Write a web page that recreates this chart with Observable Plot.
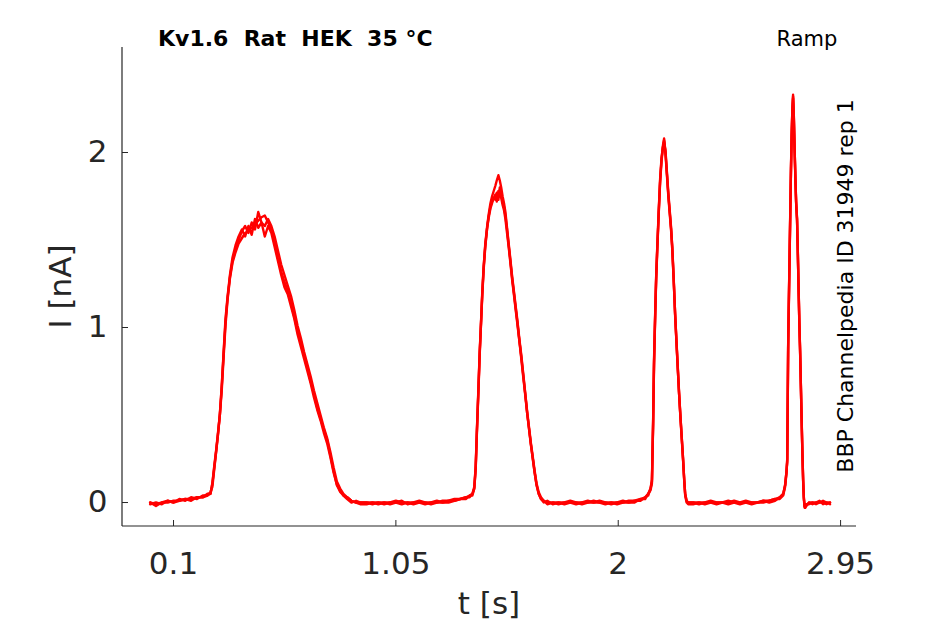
<!DOCTYPE html>
<html>
<head>
<meta charset="utf-8">
<script src="https://cdn.jsdelivr.net/npm/d3@7"></script>
<script src="https://cdn.jsdelivr.net/npm/@observablehq/plot@0.6"></script>
<style>
  html, body { margin: 0; padding: 0; background: #fff; }
  svg { display: block; }
</style>
</head>
<body>
<div id="chart"></div>
<script>
// ---- Data ----
const title = "Kv1.6  Rat  HEK  35 °C";
const protocol = "Ramp";
const sideNote = "BBP Channelpedia ID 31949 rep 1";
const xLabel = "t [s]";
const yLabel = "I [nA]";

const xTicks = [0.1, 1.05, 2, 2.95];
const xTickLabels = ["0.1", "1.05", "2", "2.95"];
const yTicks = [0, 1, 2];
const yTickLabels = ["0", "1", "2"];

const timeS = [
  0.000,0.025,0.050,0.075,0.100,0.125,0.150,0.175,0.200,0.225,0.245,0.258,
  0.266,0.274,0.282,0.290,0.298,0.306,0.314,0.322,0.331,0.341,0.352,0.365,0.378,0.392,0.406,0.420,0.434,0.448,0.462,0.476,0.490,0.504,0.518,0.532,0.546,0.560,0.574,0.588,0.602,0.616,0.630,0.644,0.658,0.672,0.686,0.700,0.714,0.728,0.742,0.756,0.770,0.784,0.798,0.812,0.826,0.842,0.860,0.880,0.900,
  0.925,0.950,0.975,1.000,1.025,1.050,1.075,1.100,1.125,1.150,1.175,1.200,1.225,1.250,1.275,1.300,1.325,1.350,1.365,
  1.377,1.385,1.391,1.396,1.402,1.408,1.414,1.419,1.425,1.432,1.440,1.447,1.454,1.461,1.468,1.475,1.481,1.488,1.494,1.500,1.506,1.512,1.518,1.525,1.532,1.540,1.547,1.555,1.562,1.570,1.578,1.586,1.594,1.603,1.611,1.619,1.627,1.635,1.643,1.651,1.660,1.670,1.682,1.697,
  1.720,1.745,1.770,1.795,1.820,1.845,1.870,1.895,1.920,1.945,1.970,1.995,2.020,2.045,2.070,2.095,2.115,
  2.128,2.138,2.144,2.149,2.153,2.158,2.162,2.167,2.173,2.179,2.185,2.191,2.196,2.202,2.208,2.214,2.220,2.226,2.231,2.237,2.243,2.249,2.255,2.260,2.265,2.271,2.277,2.282,2.286,2.292,2.299,
  2.320,2.345,2.370,2.395,2.420,2.445,2.470,2.495,2.520,2.545,2.570,2.595,2.620,2.645,2.670,2.690,
  2.705,2.713,2.719,2.722,2.724,2.726,2.729,2.732,2.735,2.738,2.741,2.744,2.747,2.750,2.753,2.757,2.760,2.764,2.767,2.771,2.774,2.777,2.781,2.784,2.787,2.790,2.793,2.796,2.799,2.803,
  2.815,2.830,2.845,2.860,2.875,2.890,2.905
];

const sweep1 = [
  0.00,-0.01,0.00,0.00,0.01,0.01,0.02,0.02,0.03,0.03,0.04,0.05,
  0.11,0.20,0.29,0.39,0.50,0.64,0.83,1.01,1.16,1.28,1.37,1.43,1.48,1.51,1.54,1.55,1.57,1.59,1.61,1.63,1.64,1.60,1.56,1.49,1.40,1.32,1.26,1.21,1.14,1.06,0.98,0.91,0.84,0.77,0.69,0.62,0.54,0.48,0.42,0.36,0.27,0.18,0.10,0.07,0.04,0.03,0.01,0.00,0.00,
  0.00,0.00,-0.01,0.00,0.00,0.01,0.00,0.00,-0.01,0.00,0.00,0.00,0.01,0.00,0.00,0.01,0.02,0.03,0.04,
  0.05,0.08,0.20,0.40,0.62,0.85,1.03,1.19,1.34,1.48,1.58,1.65,1.71,1.75,1.78,1.81,1.84,1.87,1.84,1.80,1.75,1.71,1.66,1.57,1.48,1.38,1.29,1.20,1.12,1.03,0.93,0.84,0.74,0.62,0.52,0.43,0.34,0.26,0.18,0.11,0.06,0.03,0.01,0.00,
  0.00,0.00,-0.01,0.00,0.00,0.00,0.01,0.00,0.00,-0.01,0.00,0.00,0.00,0.01,0.01,0.02,0.03,
  0.05,0.08,0.12,0.45,0.80,1.08,1.28,1.46,1.66,1.84,1.96,2.04,2.08,2.00,1.88,1.76,1.66,1.56,1.46,1.28,1.08,0.92,0.76,0.63,0.51,0.38,0.25,0.13,0.05,0.01,0.00,
  0.00,0.00,-0.01,0.00,0.00,0.00,0.01,0.00,-0.01,0.00,0.00,0.00,0.01,0.01,0.02,0.03,
  0.05,0.10,0.18,0.24,0.55,0.89,1.15,1.40,1.65,1.90,2.10,2.25,2.33,2.22,2.05,1.85,1.72,1.62,1.45,1.20,1.02,0.87,0.63,0.45,0.28,0.13,0.03,-0.02,-0.03,-0.02,
  0.00,-0.01,0.00,0.01,-0.01,0.00,0.00
];

const sweep2 = [
  -0.01,0.00,-0.01,0.01,0.00,0.02,0.01,0.03,0.02,0.04,0.04,0.06,
  0.09,0.19,0.29,0.39,0.51,0.66,0.85,1.03,1.17,1.29,1.38,1.45,1.50,1.55,1.58,1.54,1.60,1.56,1.66,1.60,1.58,1.62,1.58,1.52,1.44,1.36,1.30,1.24,1.18,1.10,1.01,0.94,0.86,0.79,0.72,0.64,0.57,0.50,0.43,0.37,0.29,0.20,0.12,0.08,0.05,0.03,0.01,0.00,-0.01,
  -0.01,0.00,0.00,-0.01,0.00,0.00,-0.01,0.00,0.00,0.01,0.00,-0.01,0.00,0.01,0.01,0.02,0.02,0.03,0.03,
  0.05,0.09,0.21,0.41,0.63,0.86,1.04,1.20,1.35,1.47,1.57,1.64,1.69,1.72,1.74,1.76,1.72,1.78,1.75,1.74,1.70,1.67,1.62,1.54,1.46,1.36,1.27,1.18,1.10,1.01,0.92,0.82,0.72,0.61,0.51,0.42,0.33,0.25,0.17,0.10,0.05,0.02,0.00,0.01,
  -0.01,0.00,0.00,0.00,-0.01,0.00,0.00,0.00,0.01,0.00,0.00,-0.01,0.00,0.00,0.01,0.01,0.03,
  0.04,0.08,0.13,0.46,0.82,1.09,1.29,1.47,1.67,1.85,1.97,2.03,2.06,2.01,1.89,1.77,1.67,1.57,1.45,1.27,1.07,0.91,0.75,0.62,0.50,0.37,0.24,0.12,0.04,0.00,-0.01,
  -0.01,0.00,0.00,0.00,-0.01,0.00,0.00,0.01,0.00,0.00,-0.01,0.00,0.00,0.01,0.02,0.02,
  0.04,0.09,0.17,0.25,0.57,0.90,1.16,1.41,1.66,1.91,2.11,2.24,2.31,2.21,2.04,1.84,1.71,1.61,1.44,1.19,1.01,0.86,0.62,0.44,0.27,0.12,0.02,-0.03,-0.03,-0.01,
  -0.01,0.00,0.00,0.00,0.00,-0.01,0.00
];

const sweep3 = [
  0.00,-0.02,0.00,0.01,0.00,0.01,0.02,0.01,0.03,0.03,0.05,0.05,
  0.11,0.21,0.30,0.40,0.50,0.67,0.86,1.05,1.18,1.30,1.40,1.47,1.52,1.56,1.52,1.58,1.53,1.62,1.57,1.60,1.52,1.58,1.54,1.46,1.38,1.30,1.23,1.19,1.12,1.05,0.96,0.89,0.82,0.75,0.68,0.60,0.53,0.47,0.40,0.34,0.26,0.17,0.10,0.06,0.04,0.02,0.00,0.01,0.00,
  0.00,-0.01,0.00,0.00,-0.01,0.00,0.01,-0.01,0.00,0.00,-0.01,0.00,0.00,0.00,0.01,0.01,0.02,0.02,0.04,
  0.04,0.08,0.19,0.39,0.61,0.84,1.03,1.18,1.33,1.46,1.57,1.63,1.68,1.71,1.74,1.73,1.77,1.73,1.80,1.76,1.72,1.69,1.64,1.56,1.47,1.37,1.28,1.19,1.11,1.02,0.92,0.83,0.73,0.62,0.51,0.42,0.33,0.25,0.17,0.10,0.05,0.02,0.01,-0.01,
  0.00,-0.01,0.00,0.01,0.00,-0.01,0.00,0.01,0.00,0.00,-0.01,0.00,0.01,0.00,0.00,0.02,0.02,
  0.05,0.07,0.11,0.44,0.79,1.07,1.27,1.45,1.65,1.83,1.95,2.03,2.07,1.99,1.87,1.75,1.65,1.55,1.44,1.27,1.08,0.91,0.75,0.62,0.51,0.38,0.25,0.13,0.05,0.01,0.00,
  0.00,-0.01,0.00,0.01,0.00,0.00,-0.01,0.00,0.00,0.01,0.00,0.00,0.01,0.00,0.01,0.03,
  0.05,0.10,0.18,0.23,0.54,0.88,1.14,1.39,1.64,1.89,2.09,2.24,2.32,2.22,2.05,1.85,1.72,1.62,1.45,1.20,1.02,0.87,0.63,0.45,0.28,0.13,0.03,-0.02,-0.02,-0.02,
  0.00,0.00,-0.01,0.00,0.01,0.00,-0.01
];

const sweeps = [
  {name: "sweep 1", values: sweep1},
  {name: "sweep 2", values: sweep2},
  {name: "sweep 3", values: sweep3}
];

// ---- Table for Plot ----
const rows = sweeps.flatMap(s => timeS.map((t, i) => ({sweep: s.name, t, I: s.values[i]})));

const W = 945, H = 624;
const mL = 122, mR = 89, mT = 47, mB = 98;
const axisColor = "#262626";

const chart = Plot.plot({
  width: W,
  height: H,
  marginLeft: mL,
  marginRight: mR,
  marginTop: mT,
  marginBottom: mB,
  style: {fontFamily: "DejaVu Sans", background: "#fff", overflow: "visible"},
  x: {domain: [-0.118, 3.018]},
  y: {domain: [-0.137, 2.6]},
  marks: [
    Plot.axisX(xTicks, {
      tickSize: -6, tickPadding: 31, fontSize: 31, color: axisColor, label: null,
      tickFormat: d => xTickLabels[xTicks.indexOf(d)]
    }),
    Plot.axisY(yTicks, {
      tickSize: -6, tickPadding: 21, fontSize: 31, color: axisColor, label: null,
      tickFormat: d => yTickLabels[yTicks.indexOf(d)]
    }),
    Plot.line(rows, {x: "t", y: "I", z: "sweep", stroke: "#ff0000", strokeWidth: 2.4, strokeLinejoin: "round"})
  ]
});

document.getElementById("chart").appendChild(chart);

// ---- Axis lines and annotation texts ----
const svg = d3.select(chart);
const xr = chart.scale("x").range;
const yr = chart.scale("y").range;
const x0 = Math.min(...xr), x1 = Math.max(...xr);
const yTop = Math.min(...yr), yBot = Math.max(...yr);

svg.append("line").attr("x1", x0).attr("x2", x0).attr("y1", yTop).attr("y2", yBot)
  .attr("stroke", axisColor).attr("stroke-width", 1.2);
svg.append("line").attr("x1", x0).attr("x2", x1).attr("y1", yBot).attr("y2", yBot)
  .attr("stroke", axisColor).attr("stroke-width", 1.2);

const ff = "DejaVu Sans";
svg.append("text").text(title)
  .attr("x", 158).attr("y", 46).attr("text-anchor", "start")
  .attr("font-family", ff).attr("font-size", 22).attr("font-weight", "bold")
  .attr("fill", "#000").style("white-space", "pre");

svg.append("text").text(protocol)
  .attr("x", 807).attr("y", 46).attr("text-anchor", "middle")
  .attr("font-family", ff).attr("font-size", 21).attr("fill", "#000");

svg.append("text").text(sideNote)
  .attr("transform", "translate(853,286) rotate(-90)").attr("text-anchor", "middle")
  .attr("font-family", ff).attr("font-size", 22).attr("fill", "#000");

svg.append("text").text(xLabel)
  .attr("x", (x0 + x1) / 2).attr("y", 614).attr("text-anchor", "middle")
  .attr("font-family", ff).attr("font-size", 31).attr("fill", axisColor);

svg.append("text").text(yLabel)
  .attr("transform", `translate(71,${(yTop + yBot) / 2}) rotate(-90)`).attr("text-anchor", "middle")
  .attr("font-family", ff).attr("font-size", 31).attr("fill", axisColor);
</script>
</body>
</html>
